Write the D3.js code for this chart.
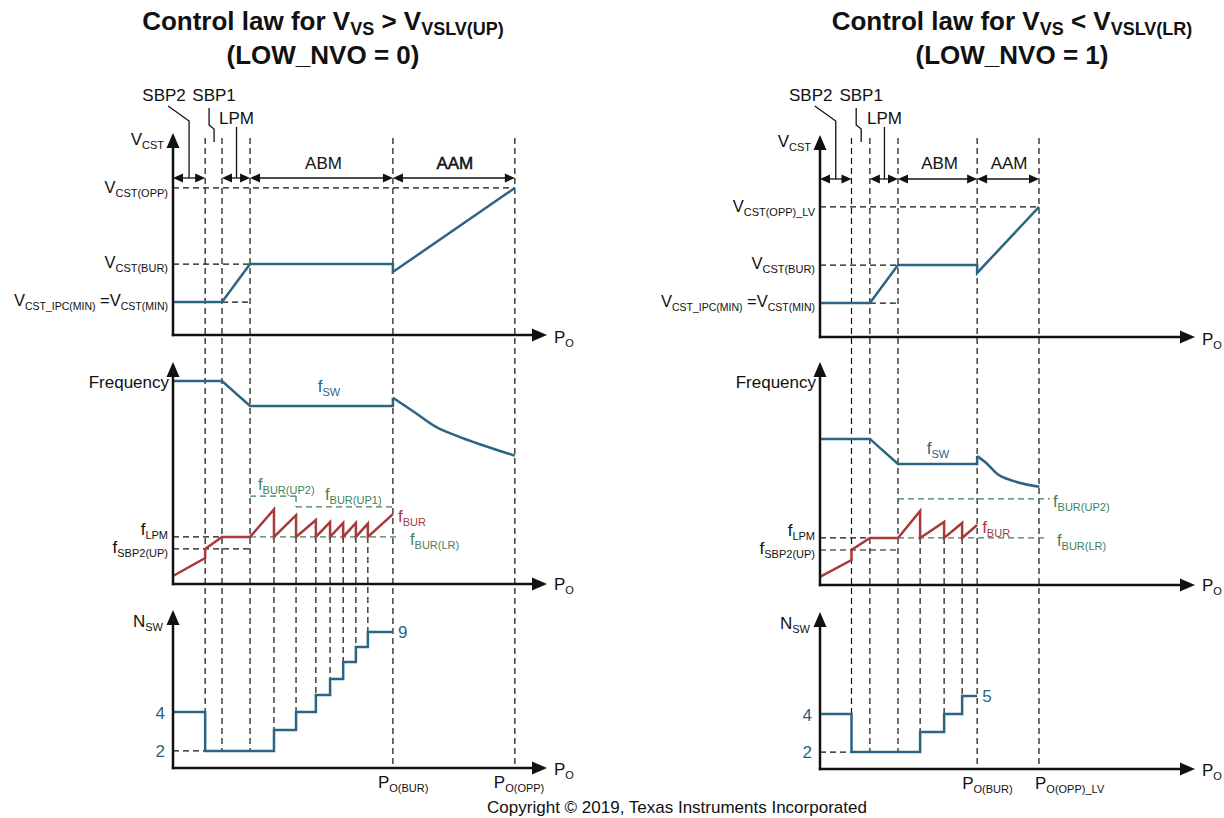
<!DOCTYPE html>
<html>
<head>
<meta charset="utf-8">
<script src="https://cdn.jsdelivr.net/npm/d3@7"></script>
<style>
  body { margin: 0; background: #fff; }
  text { font-family: "Liberation Sans", Arial, Helvetica, sans-serif; }
</style>
</head>
<body>
<svg id="chart" width="1224" height="818"></svg>
<script>
// ---- data (P_O and levels, axis units 0..100) ----

// mode borders: SBP2, SBP1, LPM, P_O(BUR), P_O(OPP)
var boundsUp = [8.6, 13.1, 20.6, 58.8, 91.4];
var boundsLv = [8.4, 13.3, 20.8, 41.9, 58.4];

// V_CST
var vcstUp = [[0, 16.3], [13.1, 16.3], [20.6, 35.1], [58.8, 35.1], [58.8, 31.2], [91.4, 72.8]];
var vcstLv = [[0, 16.8], [13.3, 16.8], [20.8, 35.6], [41.9, 35.6], [41.9, 31.7], [58.4, 64.4]];
var vcstLevelsUp = { opp: 72.8, bur: 35.1, min: 16.3 };
var vcstLevelsLv = { opp: 64.4, bur: 35.6, min: 16.8 };

// f_SW: flat part, then the AAM curve after the jump
var fswUp = [[0, 91.4], [13.1, 91.4], [20.6, 80.2], [58.8, 80.2], [58.8, 83.9]];
var fswCurveUp = [[58.8, 83.9], [64.4, 77.6], [70.2, 70.9], [75.9, 66.7], [82.6, 62.6], [91.4, 57.8]];
var fswLv = [[0, 65.5], [13.3, 65.5], [20.8, 54.3], [41.9, 54.3], [41.9, 57.8]];
var fswCurveLv = [[41.9, 57.8], [44.4, 54.6], [47.3, 49.8], [51.3, 46.8], [58.5, 44.1]];

// f_BUR ramp, burst sawtooth (drop positions + peaks), end point
var fburRampUp = [[0, 3.6], [8.6, 11.7], [8.6, 15.8], [13.1, 21.2], [20.6, 21.2]];
var fburRampLv = [[0, 3.6], [8.4, 11.2], [8.4, 15.7], [13.3, 21.1], [20.8, 21.1]];
var burDropsUp = [27.0, 32.9, 38.2, 42.0, 45.5, 48.9, 52.1];
var burPeaksUp = [33.6, 31.0, 28.8, 27.9, 27.5, 27.5, 27.2];
var burDropsLv = [26.7, 33.1, 37.9];
var burPeaksLv = [33.2, 28.3, 27.8];
var burEndUp = [58.8, 31.5];
var burEndLv = [41.9, 26.9];
var fLevelsUp = { lpm: 21.2, sbp2: 15.8, lr: 21.2, lrEnd: 60.7, up2: 39.6, up1: 34.7, up2End: 32.9 };
var fLevelsLv = { lpm: 21.1, sbp2: 15.7, lr: 21.1, lrEnd: 60.3, up2: 38.6, up2End: 61.3 };

// N_SW steps (level heights as drawn)
var nswUp = [35.4, 10.8, 24.1, 35.4, 46.2, 56.3, 67.1, 76.6, 86.1];
var nswLv = [35.0, 10.8, 23.6, 35.0, 46.5];
var nswTicks = ['4', '2'];
var nswLastUp = '9';
var nswLastLv = '5';

// ---- styles ----
var BLUE = '#2c6582';
var RED = '#a83a3c';
var GREEN = '#3f7f5c';
var INK = '#111';
var DASH = '6,4';

var svg = d3.select('#chart');

// text with subscripts: parts = [[text, isSub], ...]
function rich(g, x, y, parts, opt) {
  opt = opt || {};
  var t = g.append('text')
    .attr('x', x).attr('y', y)
    .attr('text-anchor', opt.anchor || 'start')
    .attr('fill', opt.color || INK)
    .style('font-size', (opt.size || 17) + 'px')
    .style('font-weight', opt.weight || 'normal');
  if (opt.heavy) t.attr('stroke', opt.color || INK).attr('stroke-width', 0.5);
  var shift = opt.shift || 4;
  var sub = false;
  parts.forEach(function(p) {
    var isSub = !!p[1];
    var s = t.append('tspan').text(p[0]);
    if (isSub !== sub) s.attr('dy', isSub ? shift : -shift);
    if (isSub) s.style('font-size', (opt.subSize || 11) + 'px');
    sub = isSub;
  });
  return t;
}

function dashLine(g, x1, y1, x2, y2, color) {
  g.append('line')
    .attr('x1', x1).attr('y1', y1).attr('x2', x2).attr('y2', y2)
    .attr('stroke', color || INK)
    .attr('stroke-width', 1.2)
    .attr('stroke-dasharray', DASH);
}

function solid(g, pts, color) {
  g.append('path')
    .attr('d', d3.line()(pts))
    .attr('fill', 'none')
    .attr('stroke', color || INK)
    .attr('stroke-width', 1.3);
}

// double-headed annotation arrow
function dblArrow(g, xa, xb, y) {
  var L = 10, W = 4.5;
  solid(g, [[xa + 2, y], [xb - 2, y]]);
  g.append('path').attr('d', d3.line()([[xa, y], [xa + L, y - W], [xa + L, y + W]]) + 'Z').attr('fill', INK);
  g.append('path').attr('d', d3.line()([[xb, y], [xb - L, y - W], [xb - L, y + W]]) + 'Z').attr('fill', INK);
}

// axis pair with arrow heads
function axes(g, x0, x1, base, tip) {
  g.append('line').attr('x1', x0).attr('y1', base + 1.2).attr('x2', x0).attr('y2', tip + 12)
    .attr('stroke', INK).attr('stroke-width', 2.5);
  g.append('line').attr('x1', x0 - 1.2).attr('y1', base).attr('x2', x1 - 12).attr('y2', base)
    .attr('stroke', INK).attr('stroke-width', 2.5);
  g.append('path').attr('d', d3.line()([[x0, tip], [x0 - 6.5, tip + 15], [x0 + 6.5, tip + 15]]) + 'Z').attr('fill', INK);
  g.append('path').attr('d', d3.line()([[x1, base], [x1 - 15, base - 6.5], [x1 - 15, base + 6.5]]) + 'Z').attr('fill', INK);
}

function drawPanel(c) {
  var g = svg.append('g');
  var x = d3.scaleLinear().domain([0, 100]).range([c.x0, c.x1]);
  var yT = d3.scaleLinear().domain([0, 100]).range(c.top);
  var yM = d3.scaleLinear().domain([0, 100]).range(c.mid);
  var yB = d3.scaleLinear().domain([0, 100]).range(c.bot);
  var b = c.bounds;
  var line = d3.line().x(function(d) { return x(d[0]); });

  // title
  rich(g, c.titleX, 30, c.title, { anchor: 'middle', size: 26, subSize: 18, weight: 'bold', shift: 5 });
  rich(g, c.titleX, 64, [[c.title2]], { anchor: 'middle', size: 26, weight: 'bold' });

  // --- vertical dashed mode borders ---
  var yTop = 138;
  b.forEach(function(v, i) {
    var yEnd = i < 3 ? yB(c.nsw[1]) : yB(0);
    dashLine(g, x(v), yTop, x(v), yEnd);
  });
  // burst drops: from f_BUR trough down to the new N_SW level
  c.drops.forEach(function(v, i) {
    dashLine(g, x(v), yM(c.f.lr), x(v), yB(c.nsw[i + 2]));
  });

  // --- top: V_CST ---
  var lv = c.vLevels;
  dashLine(g, x(0), yT(lv.opp), x(c.vcst[c.vcst.length - 1][0]), yT(lv.opp));
  dashLine(g, x(0), yT(lv.bur), x(b[2]), yT(lv.bur));
  dashLine(g, x(b[1]), yT(lv.min), x(b[2]), yT(lv.min));
  g.append('path')
    .attr('d', line.y(function(d) { return yT(d[1]); })(c.vcst))
    .attr('fill', 'none').attr('stroke', BLUE).attr('stroke-width', 2.5);

  // mode arrows + leaders
  var ay = c.arrowY;
  dblArrow(g, x(0), x(b[0]), ay);
  dblArrow(g, x(b[1]), x(b[2]), ay);
  dblArrow(g, x(b[2]), x(b[3]), ay);
  dblArrow(g, x(b[3]), x(b[4]), ay);
  var m2 = (x(0) + x(b[0])) / 2;
  var m1 = (x(b[0]) + x(b[1])) / 2 + 0.5;
  var mL = (x(b[1]) + x(b[2])) / 2 + 0.5;
  solid(g, [[m2 - 21, 106], [m2, 121], [m2, ay]]);
  solid(g, [[m1 - 5, 108], [m1 - 5, 125], [m1, 129], [m1, 142]]);
  solid(g, [[mL, 127], [mL, ay]]);
  rich(g, m2 - 25, 101, [['SBP2']], { anchor: 'middle' });
  rich(g, m1, 101, [['SBP1']], { anchor: 'middle' });
  rich(g, mL, 124, [['LPM']], { anchor: 'middle' });
  rich(g, (x(b[2]) + x(b[3])) / 2 + 2, 169, [['ABM']], { anchor: 'middle' });
  rich(g, (x(b[3]) + x(b[4])) / 2 + 1, 169, [['AAM']], { anchor: 'middle', heavy: c.aamHeavy });

  axes(g, c.x0, c.x1, c.top[0], c.top[1]);
  rich(g, c.x0 - 9, c.top[1] + 12, [['V'], ['CST', 1]], { anchor: 'end' });
  rich(g, c.x0 - 5, yT(lv.opp) + 5, c.oppLabel, { anchor: 'end', size: 16.5 });
  rich(g, c.x0 - 5, yT(lv.bur) + 4, [['V'], ['CST(BUR)', 1]], { anchor: 'end', size: 16.5 });
  rich(g, c.x0 - 5, yT(lv.min) + 4, [['V'], ['CST_IPC(MIN)', 1], [' =V'], ['CST(MIN)', 1]], { anchor: 'end', size: 16.5, subSize: 10.5 });
  rich(g, c.x1 + 7, c.top[0] + 8, [['P'], ['O', 1]]);

  // --- middle: frequency ---
  var f = c.f;
  dashLine(g, x(0), yM(f.lpm), x(b[2]), yM(f.lpm));
  dashLine(g, x(0), yM(f.sbp2), x(b[2]), yM(f.sbp2));
  dashLine(g, x(b[2]), yM(f.lr), x(f.lrEnd), yM(f.lr), GREEN);
  if (f.up1 !== undefined) {
    dashLine(g, x(b[2]), yM(f.up2), x(f.up2End), yM(f.up2), GREEN);
    dashLine(g, x(f.up2End), yM(f.up2), x(f.up2End), yM(f.up1), GREEN);
    dashLine(g, x(f.up2End), yM(f.up1), x(b[3]), yM(f.up1), GREEN);
  } else {
    dashLine(g, x(b[2]), yM(f.up2), x(f.up2End), yM(f.up2), GREEN);
  }

  var fbur = c.ramp.slice();
  c.drops.forEach(function(v, i) {
    fbur.push([v, c.peaks[i]]);
    fbur.push([v, f.lr]);
  });
  fbur.push(c.burEnd);
  g.append('path')
    .attr('d', line.y(function(d) { return yM(d[1]); })(fbur))
    .attr('fill', 'none').attr('stroke', RED).attr('stroke-width', 2.5);
  g.append('path')
    .attr('d', line.y(function(d) { return yM(d[1]); })(c.fsw))
    .attr('fill', 'none').attr('stroke', BLUE).attr('stroke-width', 2.5);
  g.append('path')
    .attr('d', d3.line().x(function(d) { return x(d[0]); }).y(function(d) { return yM(d[1]); })
      .curve(d3.curveMonotoneX)(c.fswCurve))
    .attr('fill', 'none').attr('stroke', BLUE).attr('stroke-width', 2.5);

  axes(g, c.x0, c.x1, c.mid[0], c.mid[1]);
  rich(g, c.x0 - 4, c.mid[1] + 26, [['Frequency']], { anchor: 'end' });
  rich(g, c.fswLabel[0], c.fswLabel[1], [['f'], ['SW', 1]], { anchor: 'middle', color: BLUE });
  rich(g, x(c.burEnd[0]) + 5, yM(c.burEnd[1]) + 8, [['f'], ['BUR', 1]], { color: RED });
  rich(g, c.lrLabelX, yM(f.lr) + 8, [['f'], ['BUR(LR)', 1]], { color: GREEN, size: 16.5 });
  c.greenLabels.forEach(function(l) {
    rich(g, l[0], l[1], [['f'], [l[2], 1]], { color: GREEN, size: 16.5 });
  });
  rich(g, c.x0 - 5, yM(f.lpm) - 2, [['f'], ['LPM', 1]], { anchor: 'end' });
  rich(g, c.x0 - 5, yM(f.sbp2) + 4, [['f'], ['SBP2(UP)', 1]], { anchor: 'end' });
  rich(g, c.x1 + 7, c.mid[0] + 6, [['P'], ['O', 1]]);

  // --- bottom: N_SW ---
  var edges = [0, b[0]].concat(c.drops);
  var steps = edges.map(function(v, i) { return [v, c.nsw[i]]; });
  steps.push([b[3], c.nsw[c.nsw.length - 1]]);
  dashLine(g, x(0), yB(c.nsw[1]), x(b[1]), yB(c.nsw[1]));
  g.append('path')
    .attr('d', d3.line().x(function(d) { return x(d[0]); }).y(function(d) { return yB(d[1]); })
      .curve(d3.curveStepAfter)(steps))
    .attr('fill', 'none').attr('stroke', BLUE).attr('stroke-width', 2.5);

  axes(g, c.x0, c.x1, c.bot[0], c.bot[1]);
  rich(g, c.x0 - 10, c.bot[1] + 17, [['N'], ['SW', 1]], { anchor: 'end' });
  rich(g, c.x0 - 8, yB(c.nsw[0]) + 7, [[nswTicks[0]]], { anchor: 'end', color: BLUE });
  rich(g, c.x0 - 8, yB(c.nsw[1]) + 6, [[nswTicks[1]]], { anchor: 'end', color: BLUE });
  rich(g, x(b[3]) + 5, yB(c.nsw[c.nsw.length - 1]) + 6, [[c.lastLabel]], { color: BLUE });
  rich(g, x(b[3]) - 15, c.bot[0] + 20, [['P'], ['O(BUR)', 1]]);
  rich(g, x(b[4]) + c.oppPShift, c.bot[0] + 20, c.oppPLabel);
  rich(g, c.x1 + 7, c.bot[0] + 7, [['P'], ['O', 1]]);
}

drawPanel({
  x0: 173, x1: 547,
  top: [335, 133], mid: [584, 362], bot: [768, 610],
  arrowY: 178, titleX: 323,
  title: [['Control law for V'], ['VS', 1], [' > V'], ['VSLV(UP)', 1]],
  title2: '(LOW_NVO = 0)',
  bounds: boundsUp, vcst: vcstUp, vLevels: vcstLevelsUp,
  oppLabel: [['V'], ['CST(OPP)', 1]],
  fsw: fswUp, fswCurve: fswCurveUp, f: fLevelsUp, ramp: fburRampUp,
  drops: burDropsUp, peaks: burPeaksUp, burEnd: burEndUp,
  fswLabel: [329, 392], lrLabelX: 410,
  greenLabels: [[258, 490, 'BUR(UP2)'], [325, 500, 'BUR(UP1)']],
  nsw: nswUp, lastLabel: nswLastUp,
  oppPLabel: [['P'], ['O(OPP)', 1]], oppPShift: -21,
  aamHeavy: true
});

drawPanel({
  x0: 820, x1: 1195,
  top: [337, 135], mid: [585, 362], bot: [769, 612],
  arrowY: 179, titleX: 1012,
  title: [['Control law for V'], ['VS', 1], [' < V'], ['VSLV(LR)', 1]],
  title2: '(LOW_NVO = 1)',
  bounds: boundsLv, vcst: vcstLv, vLevels: vcstLevelsLv,
  oppLabel: [['V'], ['CST(OPP)_LV', 1]],
  fsw: fswLv, fswCurve: fswCurveLv, f: fLevelsLv, ramp: fburRampLv,
  drops: burDropsLv, peaks: burPeaksLv, burEnd: burEndLv,
  fswLabel: [938, 454], lrLabelX: 1057,
  greenLabels: [[1053, 507, 'BUR(UP2)']],
  nsw: nswLv, lastLabel: nswLastLv,
  oppPLabel: [['P'], ['O(OPP)_LV', 1]], oppPShift: -4,
  aamHeavy: false
});

svg.append('text')
  .attr('x', 677).attr('y', 813)
  .attr('text-anchor', 'middle')
  .attr('fill', INK)
  .style('font-size', '17px')
  .text('Copyright © 2019, Texas Instruments Incorporated');
</script>
</body>
</html>
